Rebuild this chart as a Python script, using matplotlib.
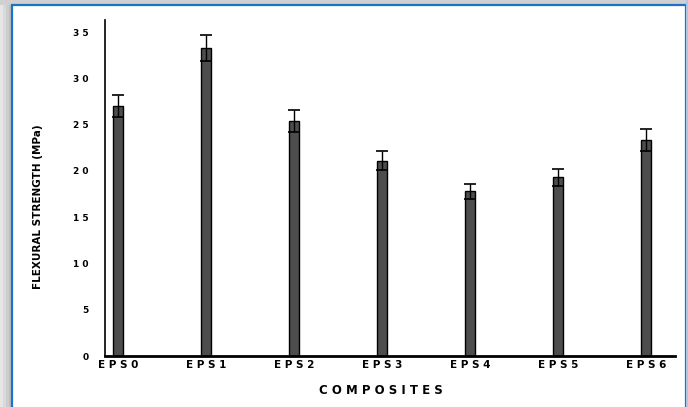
import matplotlib.pyplot as plt
from matplotlib.patches import Rectangle

# flexural strength of the EPS composites (MPa) with error bars
composites = ["E P S 0", "E P S 1", "E P S 2", "E P S 3", "E P S 4", "E P S 5", "E P S 6"]
strength = [27.0, 33.3, 25.4, 21.1, 17.8, 19.3, 23.3]
error = [1.2, 1.4, 1.2, 1.0, 0.8, 0.9, 1.2]
yticks = [0, 5, 10, 15, 20, 25, 30, 35]

fig = plt.figure(figsize=(6.88, 4.07), dpi=100)
W, H = 688, 407

# window frame: grey shadow on the left/top and a blue border
for i, c in enumerate(["#e6e6e6", "#d9d9d9", "#cccccc", "#bfbfbf"]):
    fig.patches.append(Rectangle((i * 3 / W, 0), 3 / W, 1, transform=fig.transFigure,
                                 facecolor=c, edgecolor="none", zorder=-3))
fig.patches.append(Rectangle((0, 1 - 5 / H), 1, 5 / H, transform=fig.transFigure,
                             facecolor="#d0d0d0", edgecolor="none", zorder=-3))
fig.patches.append(Rectangle((12 / W, -0.01), (686 - 12) / W, 1 - 5 / H + 0.01,
                             transform=fig.transFigure, facecolor="white",
                             edgecolor="#1a73c8", linewidth=1.6, zorder=-2))
fig.patches.append(Rectangle((686 / W, 0), 2 / W, 1, transform=fig.transFigure,
                             facecolor="#a9c9e8", edgecolor="none", zorder=-2))

ax = fig.add_axes([105 / W, 1 - 356 / H, (675 - 105) / W, (356 - 20) / H])
ax.set_facecolor("none")

x = list(range(len(composites)))
ax.bar(x, strength, width=0.11, color="#4d4d4d", edgecolor="black", linewidth=1.0,
       yerr=error, capsize=4.5, error_kw=dict(ecolor="black", elinewidth=1.0, capthick=1.2))

ax.set_xlim(-0.148, 6.33)
ax.set_ylim(0, 36.3)
ax.set_yticks(yticks)
ax.set_yticklabels([" ".join(str(v)) for v in yticks], fontsize=6.5, fontweight="bold")
ax.tick_params(axis="y", length=0, pad=12)
ax.set_xticks(x)
ax.set_xticklabels(composites, fontsize=7.5, fontweight="bold")
ax.tick_params(axis="x", length=0, pad=3)

for side in ["top", "right"]:
    ax.spines[side].set_visible(False)
ax.spines["left"].set_linewidth(1.2)
ax.spines["bottom"].set_linewidth(2.0)

fig.text(381 / W, 1 - 391 / H, "C O M P O S I T E S", ha="center", va="center",
         fontsize=8.5, fontweight="bold")
fig.text(38 / W, 1 - 207 / H, "FLEXURAL STRENGTH (MPa)", ha="center", va="center",
         rotation=90, fontsize=7.5, fontweight="bold")

fig.savefig("out.png", dpi=100)
